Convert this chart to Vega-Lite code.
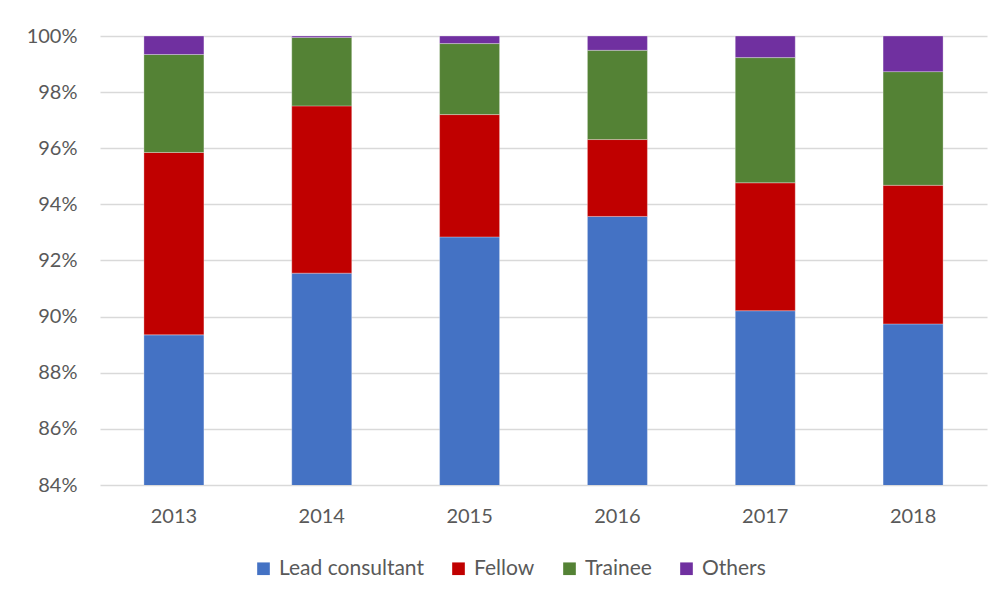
{
  "$schema": "https://vega.github.io/schema/vega-lite/v6.json",
  "width": 887,
  "height": 449,
  "autosize": "none",
  "padding": {"left": 100, "top": 36, "right": 18, "bottom": 119},
  "background": "white",
  "config": {"view": {"stroke": null}, "font": "Lato"},
  "data": {"values": [
    {"year": "2013", "role": "Lead consultant", "k": 1, "v": 89.35},
    {"year": "2013", "role": "Fellow", "k": 2, "v": 6.50},
    {"year": "2013", "role": "Trainee", "k": 3, "v": 3.49},
    {"year": "2013", "role": "Others", "k": 4, "v": 0.66},
    {"year": "2014", "role": "Lead consultant", "k": 1, "v": 91.55},
    {"year": "2014", "role": "Fellow", "k": 2, "v": 5.96},
    {"year": "2014", "role": "Trainee", "k": 3, "v": 2.44},
    {"year": "2014", "role": "Others", "k": 4, "v": 0.05},
    {"year": "2015", "role": "Lead consultant", "k": 1, "v": 92.84},
    {"year": "2015", "role": "Fellow", "k": 2, "v": 4.36},
    {"year": "2015", "role": "Trainee", "k": 3, "v": 2.53},
    {"year": "2015", "role": "Others", "k": 4, "v": 0.27},
    {"year": "2016", "role": "Lead consultant", "k": 1, "v": 93.57},
    {"year": "2016", "role": "Fellow", "k": 2, "v": 2.74},
    {"year": "2016", "role": "Trainee", "k": 3, "v": 3.18},
    {"year": "2016", "role": "Others", "k": 4, "v": 0.51},
    {"year": "2017", "role": "Lead consultant", "k": 1, "v": 90.21},
    {"year": "2017", "role": "Fellow", "k": 2, "v": 4.56},
    {"year": "2017", "role": "Trainee", "k": 3, "v": 4.46},
    {"year": "2017", "role": "Others", "k": 4, "v": 0.77},
    {"year": "2018", "role": "Lead consultant", "k": 1, "v": 89.74},
    {"year": "2018", "role": "Fellow", "k": 2, "v": 4.94},
    {"year": "2018", "role": "Trainee", "k": 3, "v": 4.05},
    {"year": "2018", "role": "Others", "k": 4, "v": 1.27}
  ]},
  "mark": {"type": "bar", "width": 60, "clip": true, "stroke": "white", "strokeWidth": 0.6, "strokeOpacity": 0.5},
  "encoding": {
    "x": {
      "field": "year", "type": "nominal",
      "scale": {"paddingInner": 0, "paddingOuter": 0},
      "axis": {"title": null, "labelAngle": 0, "labelFontSize": 20, "labelColor": "#595959", "labelPadding": 21, "ticks": false, "domain": false}
    },
    "y": {
      "field": "v", "type": "quantitative", "stack": "normalize",
      "scale": {"domain": [0.84, 1], "zero": false, "nice": false},
      "axis": {"title": null, "format": ".0%", "values": [0.84, 0.86, 0.88, 0.9, 0.92, 0.94, 0.96, 0.98, 1.0], "labelFontSize": 20, "labelColor": "#595959", "labelPadding": 23, "ticks": false, "domain": false, "gridColor": "#d9d9d9", "gridWidth": 1.3}
    },
    "color": {
      "field": "role", "type": "nominal",
      "scale": {"domain": ["Lead consultant", "Fellow", "Trainee", "Others"], "range": ["#4472C4", "#C00000", "#548235", "#7030A0"]},
      "legend": {"title": null, "orient": "none", "legendX": 153, "legendY": 522, "direction": "horizontal", "symbolType": "square", "symbolSize": 160, "symbolStrokeWidth": 0, "labelFontSize": 21, "labelColor": "#595959", "labelOffset": 5, "columnPadding": 24}
    },
    "order": {"field": "k", "type": "quantitative"}
  }
}
